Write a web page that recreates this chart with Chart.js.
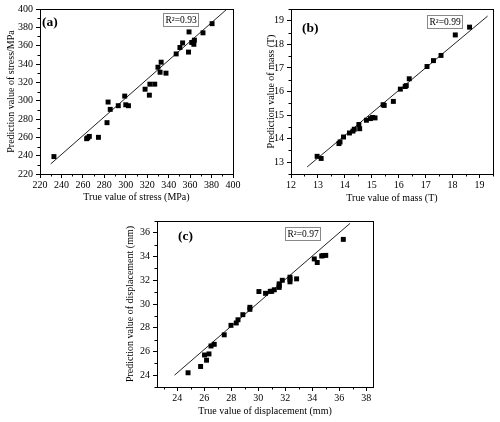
<!DOCTYPE html>
<html>
<head>
<meta charset="utf-8">
<script src="https://cdn.jsdelivr.net/npm/chart.js@4"></script>
<style>
  body { margin: 0; background: #fff; }
  #wrap { position: relative; width: 500px; height: 422px; }
  .box { position: absolute; }
</style>
</head>
<body>
<div id="wrap">
  <div class="box" style="left:0;top:0;width:245px;height:210px"><canvas id="chartA"></canvas></div>
  <div class="box" style="left:250px;top:0;width:250px;height:210px"><canvas id="chartB"></canvas></div>
  <div class="box" style="left:100px;top:212px;width:300px;height:210px"><canvas id="chartC"></canvas></div>
</div>
<script>
// (a) 应力
const stressTrue = [233, 263.5, 264.5, 266, 274.5, 282.5, 283.5, 285.5, 293, 299, 300, 302.5,
    318, 322, 322.5, 327, 330, 332, 333, 337.5, 347, 350.5, 353, 359, 358.5, 361.5, 364, 363.5, 372, 380.5];
const stressPred = [239, 258.5, 259.5, 261, 260, 276, 298.5, 290.5, 294.5, 305, 295.5, 294.5,
    312.5, 306, 318, 318, 336.5, 331, 342, 330, 351, 358, 363, 375, 353, 363.5, 366, 361.5, 374, 384];
const stressFitX = [230, 393.5];
const stressFitY = [231, 399];
const stressTicks = [220, 240, 260, 280, 300, 320, 340, 360, 380, 400];

// (b) 质量
const massTrue = [12.97, 13.12, 13.78, 13.82, 13.95, 14.17, 14.3, 14.35, 14.52, 14.55, 14.8, 14.95, 15.03, 15.12,
    15.42, 15.46, 15.8, 16.06, 16.24, 16.28, 16.39, 17.05, 17.29, 17.57, 18.1, 18.63];
const massPred = [13.25, 13.16, 13.79, 13.86, 14.07, 14.24, 14.32, 14.4, 14.6, 14.42, 14.78, 14.85, 14.9, 14.88,
    15.44, 15.41, 15.58, 16.1, 16.21, 16.25, 16.54, 17.06, 17.31, 17.53, 18.4, 18.73];
const massFitX = [12.6, 19.3];
const massFitY = [12.8, 19.2];
const massXTicks = [12, 13, 14, 15, 16, 17, 18, 19];
const massYTicks = [13, 14, 15, 16, 17, 18, 19];

// (c) 位移
const dispTrue = [24.8, 25.73, 26.02, 26.17, 26.35, 26.5, 26.74, 27.48, 27.98, 28.37, 28.5, 28.86, 29.38, 29.38,
    30.05, 30.54, 30.89, 31.0, 31.19, 31.55, 31.55, 31.55, 31.78, 32.35, 32.35, 32.35, 32.84,
    34.15, 34.37, 34.7, 34.8, 35.0, 36.3];
const dispPred = [24.2, 24.73, 25.7, 25.26, 25.79, 26.46, 26.6, 27.4, 28.2, 28.4, 28.67, 29.1, 29.55, 29.72,
    31.05, 30.9, 31.07, 31.07, 31.2, 31.4, 31.7, 31.55, 32.0, 32.26, 31.87, 32.1, 32.12,
    33.8, 33.5, 34.05, 34.08, 34.1, 35.45];
const dispFitX = [23.8, 36.8];
const dispFitY = [24.0, 36.8];
const dispXTicks = [24, 26, 28, 30, 32, 34, 36, 38];
const dispYTicks = [24, 26, 28, 30, 32, 34, 36];

const serif = "'Liberation Serif', 'Times New Roman', serif";

// 边框、次刻度、面板标签和 R² 框
const panelDecor = {
    id: 'panelDecor',
    afterDraw(chart, args, opts) {
        const ctx = chart.ctx;
        const a = chart.chartArea;
        ctx.save();
        ctx.strokeStyle = '#000';
        ctx.lineWidth = 1;

        // 次刻度
        ['x', 'y'].forEach(id => {
            const s = chart.scales[id];
            const vals = s.ticks.map(t => t.value);
            const step = vals[1] - vals[0];
            ctx.beginPath();
            for (let v = vals[0] - step / 2; v <= vals[vals.length - 1] + step / 2 + 1e-9; v += step) {
                if (v < s.min || v > s.max) continue;
                const p = Math.round(s.getPixelForValue(v)) + 0.5;
                if (id === 'x') {
                    ctx.moveTo(p, a.bottom);
                    ctx.lineTo(p, a.bottom + 2.5);
                } else {
                    ctx.moveTo(a.left, p);
                    ctx.lineTo(a.left - 2.5, p);
                }
            }
            ctx.stroke();
        });

        // 外框
        ctx.strokeRect(Math.round(a.left) + 0.5, Math.round(a.top) + 0.5,
            Math.round(a.right - a.left), Math.round(a.bottom - a.top));

        // 面板标签
        ctx.fillStyle = '#000';
        ctx.font = 'bold 13.5px ' + serif;
        ctx.textBaseline = 'middle';
        ctx.textAlign = 'left';
        ctx.fillText(opts.label, a.left + opts.labelX, a.top + opts.labelY);

        // R² 框
        ctx.font = '9.5px ' + serif;
        const w = ctx.measureText(opts.r2).width;
        const bx = a.left + opts.boxX, by = a.top + opts.boxY;
        ctx.strokeStyle = '#888';
        ctx.strokeRect(Math.round(bx) + 0.5, Math.round(by) + 0.5, Math.round(w + 4), 13);
        ctx.fillText(opts.r2, bx + 2.5, by + 7);
        ctx.restore();
    }
};

function makeAxis(ticks, min, max, title, fitSize, isX, titlePad) {
    return {
        type: 'linear',
        min: min,
        max: max,
        afterBuildTicks: s => { s.ticks = ticks.map(v => ({ value: v })); },
        afterFit: s => { if (isX) s.height = fitSize; else s.width = fitSize; },
        grid: { drawOnChartArea: false, drawTicks: true, tickLength: 4, color: '#000', lineWidth: 1 },
        border: { display: false },
        ticks: {
            color: '#000',
            font: { family: serif, size: 10 },
            padding: isX ? 1 : 3,
            maxRotation: 0,
            autoSkip: false
        },
        title: {
            display: true,
            text: title,
            color: '#000',
            font: { family: serif, size: 10 },
            padding: isX ? { top: 0, bottom: titlePad } : { top: titlePad, bottom: 0 }
        }
    };
}

function makePanel(id, xs, ys, fitX, fitY, xAxis, yAxis, padding, deco) {
    new Chart(document.getElementById(id), {
        type: 'scatter',
        data: {
            datasets: [
                {
                    data: xs.map((x, i) => ({ x: x, y: ys[i] })),
                    pointStyle: 'rect',
                    pointRadius: 3.5,
                    backgroundColor: '#000',
                    borderWidth: 0
                },
                {
                    data: fitX.map((x, i) => ({ x: x, y: fitY[i] })),
                    showLine: true,
                    pointRadius: 0,
                    borderColor: '#222',
                    borderWidth: 1
                }
            ]
        },
        options: {
            responsive: true,
            maintainAspectRatio: false,
            animation: false,
            layout: { padding: padding },
            plugins: {
                legend: { display: false },
                tooltip: { enabled: false },
                panelDecor: deco
            },
            scales: { x: xAxis, y: yAxis }
        },
        plugins: [panelDecor]
    });
}

makePanel('chartA', stressTrue, stressPred, stressFitX, stressFitY,
    makeAxis(stressTicks, 220, 400, 'True value of stress (MPa)', 36, true, 6.5),
    makeAxis(stressTicks, 220, 400, 'Prediction value of stress/MPa', 40, false, 5),
    { left: 0, right: 12, top: 8, bottom: 0 },
    { label: '(a)', labelX: 2, labelY: 14, r2: 'R²=0.93', boxX: 123, boxY: 4 });

makePanel('chartB', massTrue, massPred, massFitX, massFitY,
    makeAxis(massXTicks, 12, 19.5, 'True value of mass (T)', 36, true, 5.7),
    makeAxis(massYTicks, 12.5, 19.5, 'Prediction value of mass (T)', 41, false, 15.7),
    { left: 0, right: 7, top: 7, bottom: 0 },
    { label: '(b)', labelX: 11, labelY: 20, r2: 'R²=0.99', boxX: 136, boxY: 6 });

makePanel('chartC', dispTrue, dispPred, dispFitX, dispFitY,
    makeAxis(dispXTicks, 22.5, 38.5, 'True value of displacement (mm)', 35, true, 4.3),
    makeAxis(dispYTicks, 23, 37, 'Prediction value of displacement (mm)', 57, false, 24),
    { left: 0, right: 27, top: 9, bottom: 0 },
    { label: '(c)', labelX: 21, labelY: 16, r2: 'R²=0.97', boxX: 128, boxY: 6 });
</script>
</body>
</html>
